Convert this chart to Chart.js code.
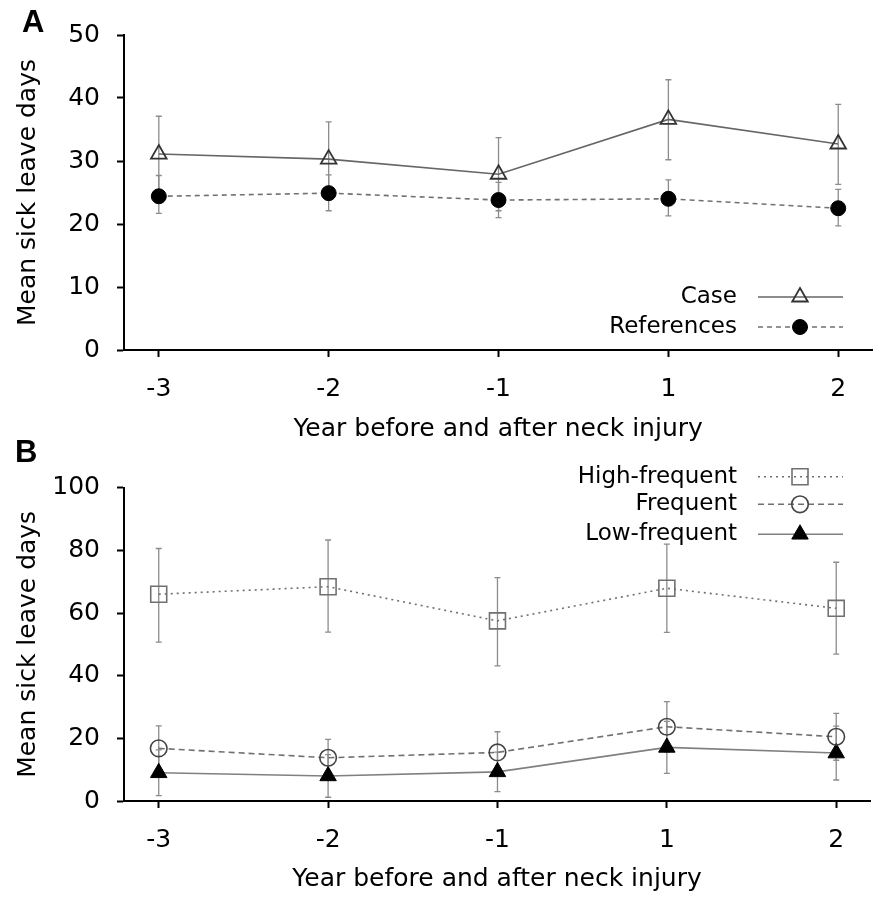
<!DOCTYPE html>
<html>
<head>
<meta charset="utf-8">
<script src="https://cdn.jsdelivr.net/npm/chart.js@4.4.1/dist/chart.umd.min.js"></script>
<style>
html, body { margin: 0; padding: 0; background: #fff; }
#wrap { position: relative; width: 883px; height: 898px; overflow: hidden; }
canvas { position: absolute; left: 0; }
#chartA { top: 0; }
#chartB { top: 440px; }
.tag { position: absolute; font: bold 31px "Liberation Sans"; line-height: 31px; }
</style>
</head>
<body>
<div id="wrap">
  <canvas id="chartA" width="883" height="450"></canvas>
  <canvas id="chartB" width="883" height="458"></canvas>
  <div class="tag" style="left:22px;top:6px;">A</div>
  <div class="tag" style="left:15px;top:436px;">B</div>
</div>
<script>
// x categories (years before / after the injury)
const years = ['-3', '-2', '-1', '1', '2'];

// panel A
const ticksA = [0, 10, 20, 30, 40, 50];
const caseMean = [31.1, 30.3, 27.9, 36.6, 32.7];
const caseHigh = [37.1, 36.2, 33.7, 42.9, 39.0];
const caseLow = [25.1, 24.4, 22.1, 30.2, 26.3];
const refMean = [24.4, 24.9, 23.8, 24.0, 22.5];
const refHigh = [27.7, 27.8, 26.6, 27.0, 25.5];
const refLow = [21.7, 22.1, 21.0, 21.3, 19.7];

// panel B
const ticksB = [0, 20, 40, 60, 80, 100];
const highMean = [66.0, 68.4, 57.5, 67.9, 61.5];
const highHigh = [80.6, 83.3, 71.3, 82.0, 76.2];
const highLow = [50.7, 53.9, 43.1, 53.8, 46.9];
const freqMean = [16.8, 13.8, 15.5, 23.7, 20.5];
const freqHigh = [24.0, 19.7, 22.1, 31.7, 28.0];
const freqLow = [9.6, 7.9, 8.9, 15.7, 13.0];
const lowMean = [9.0, 8.0, 9.3, 17.1, 15.3];
const lowHigh = [16.3, 14.8, 15.6, 25.4, 23.9];
const lowLow = [1.7, 1.2, 3.0, 8.8, 6.7];

Chart.defaults.font.family = '"DejaVu Sans"';
Chart.defaults.color = '#000';

function pts(arr) {
    return arr.map((v, i) => ({ x: i, y: v }));
}

// marker drawing shared by the legend
function marker(ctx, style, r, x, y, fill, stroke, bw) {
    ctx.beginPath();
    if (style === 'triangle') {
        for (let k = 0; k < 3; k++) {
            const a = k * 2 * Math.PI / 3;
            const px = x + Math.sin(a) * r, py = y - Math.cos(a) * r;
            if (k === 0) ctx.moveTo(px, py); else ctx.lineTo(px, py);
        }
        ctx.closePath();
    } else if (style === 'rect') {
        const s = r * Math.SQRT1_2;
        ctx.rect(x - s, y - s, 2 * s, 2 * s);
    } else {
        ctx.arc(x, y, r, 0, Math.PI * 2);
    }
    ctx.fillStyle = fill;
    ctx.fill();
    ctx.lineWidth = bw;
    ctx.strokeStyle = stroke;
    ctx.stroke();
}

// error bars, drawn under the markers
const errorBars = {
    id: 'errorBars',
    beforeDatasetsDraw(chart) {
        const { ctx, scales: { x, y } } = chart;
        ctx.save();
        ctx.strokeStyle = '#8c8c8c';
        ctx.lineWidth = 1.3;
        chart.data.datasets.forEach(ds => {
            ds.errHigh.forEach((hi, i) => {
                const px = x.getPixelForValue(i);
                const top = y.getPixelForValue(hi);
                const bot = y.getPixelForValue(ds.errLow[i]);
                ctx.beginPath();
                ctx.moveTo(px, top); ctx.lineTo(px, bot);
                ctx.moveTo(px - 3, top); ctx.lineTo(px + 3, top);
                ctx.moveTo(px - 3, bot); ctx.lineTo(px + 3, bot);
                ctx.stroke();
            });
        });
        ctx.restore();
    }
};

// legend with text on the left and line sample on the right
const sideLegend = {
    id: 'sideLegend',
    afterDraw(chart, args, opts) {
        const ctx = chart.ctx;
        ctx.save();
        chart.data.datasets.forEach((ds, i) => {
            const y = opts.rows[i];
            ctx.font = '23px "DejaVu Sans"';
            ctx.fillStyle = '#000';
            ctx.textAlign = 'right';
            ctx.textBaseline = 'middle';
            ctx.fillText(ds.label, opts.textRight, y);
            ctx.beginPath();
            ctx.setLineDash(ds.borderDash || []);
            ctx.strokeStyle = ds.borderColor;
            ctx.lineWidth = ds.borderWidth;
            ctx.moveTo(opts.lineFrom, y);
            ctx.lineTo(opts.lineTo, y);
            ctx.stroke();
            ctx.setLineDash([]);
            marker(ctx, ds.pointStyle, ds.pointRadius, opts.markerX, y,
                ds.pointBackgroundColor, ds.pointBorderColor, ds.pointBorderWidth);
        });
        ctx.restore();
    }
};

function makeOptions(yTicks, padTop, xHeight, titlePad, legendRows) {
    return {
        responsive: false,
        animation: false,
        events: [],
        layout: { padding: { top: padTop, right: 5, left: 0, bottom: 0 } },
        plugins: {
            legend: { display: false },
            tooltip: { enabled: false },
            sideLegend: { textRight: 737, lineFrom: 758, lineTo: 843, markerX: 800, rows: legendRows }
        },
        scales: {
            x: {
                type: 'linear',
                min: -0.205,
                max: 4.2,
                afterBuildTicks: axis => { axis.ticks = years.map((_, i) => ({ value: i })); },
                afterFit: scale => { scale.height = xHeight; },
                ticks: {
                    callback: v => years[Math.round(v)],
                    font: { size: 25 },
                    padding: 17,
                    maxRotation: 0
                },
                grid: { drawOnChartArea: false, drawTicks: true, tickLength: 7, tickWidth: 2, tickColor: '#000' },
                border: { display: true, color: '#000', width: 2 },
                title: {
                    display: true,
                    text: 'Year before and after neck injury',
                    font: { size: 25, lineHeight: 1 },
                    padding: { top: 0, bottom: titlePad }
                }
            },
            y: {
                min: yTicks[0],
                max: yTicks[yTicks.length - 1],
                afterBuildTicks: axis => { axis.ticks = yTicks.map(v => ({ value: v })); },
                afterFit: scale => { scale.width = 124; },
                ticks: { font: { size: 25 }, padding: 17 },
                grid: { drawOnChartArea: false, drawTicks: true, tickLength: 7, tickWidth: 2, tickColor: '#000' },
                border: { display: true, color: '#000', width: 2 },
                title: {
                    display: true,
                    text: 'Mean sick leave days',
                    font: { size: 25 },
                    padding: { top: 13, bottom: 0 }
                }
            }
        }
    };
}

new Chart(document.getElementById('chartA').getContext('2d'), {
    type: 'line',
    data: {
        datasets: [{
            label: 'Case',
            data: pts(caseMean),
            errHigh: caseHigh, errLow: caseLow,
            borderColor: '#666', borderWidth: 1.6, borderDash: [],
            pointStyle: 'triangle', pointRadius: 9, pointBorderWidth: 1.8,
            pointBorderColor: '#333', pointBackgroundColor: 'rgba(255,255,255,0)'
        }, {
            label: 'References',
            data: pts(refMean),
            errHigh: refHigh, errLow: refLow,
            borderColor: '#707070', borderWidth: 1.6, borderDash: [5, 4],
            pointStyle: 'circle', pointRadius: 7.5, pointBorderWidth: 1,
            pointBorderColor: '#000', pointBackgroundColor: '#000'
        }]
    },
    options: makeOptions(ticksA, 35, 100, 8.5, [297, 327]),
    plugins: [errorBars, sideLegend]
});

new Chart(document.getElementById('chartB').getContext('2d'), {
    type: 'line',
    data: {
        datasets: [{
            label: 'High-frequent',
            data: pts(highMean),
            errHigh: highHigh, errLow: highLow,
            borderColor: '#707070', borderWidth: 1.6, borderDash: [2, 4],
            pointStyle: 'rect', pointRadius: 11.3, pointBorderWidth: 1.6,
            pointBorderColor: '#707070', pointBackgroundColor: 'rgba(255,255,255,0)'
        }, {
            label: 'Frequent',
            data: pts(freqMean),
            errHigh: freqHigh, errLow: freqLow,
            borderColor: '#707070', borderWidth: 1.6, borderDash: [6, 4],
            pointStyle: 'circle', pointRadius: 8.3, pointBorderWidth: 1.6,
            pointBorderColor: '#444', pointBackgroundColor: 'rgba(255,255,255,0)'
        }, {
            label: 'Low-frequent',
            data: pts(lowMean),
            errHigh: lowHigh, errLow: lowLow,
            borderColor: '#808080', borderWidth: 1.6, borderDash: [],
            pointStyle: 'triangle', pointRadius: 9.5, pointBorderWidth: 1,
            pointBorderColor: '#000', pointBackgroundColor: '#000'
        }]
    },
    options: makeOptions(ticksB, 47.7, 97, 6.5, [36.7, 64.3, 94.3]),
    plugins: [errorBars, sideLegend]
});
</script>
</body>
</html>
